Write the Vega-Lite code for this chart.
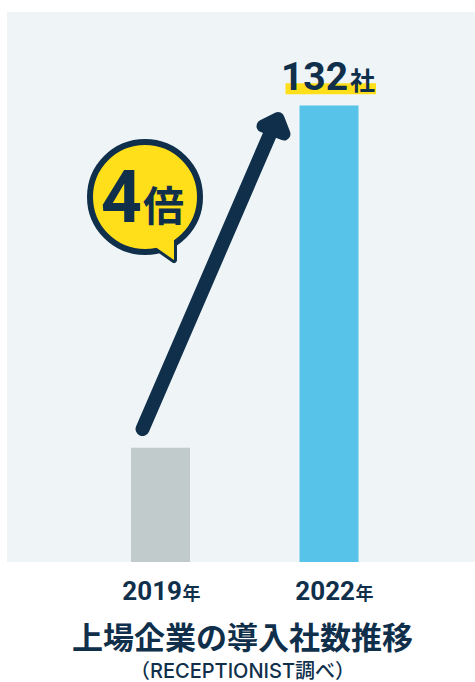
{
  "$schema": "https://vega.github.io/schema/vega-lite/v6.json",
  "width": 468,
  "height": 550,
  "autosize": {"type": "none"},
  "padding": {"left": 7, "top": 12, "right": 0, "bottom": 120},
  "background": "#ffffff",
  "view": {"fill": "#EFF4F7", "stroke": null},
  "config": {"axis": {"disable": true}},
  "datasets": {
    "companies": [
      {"x": 2019, "y": 33, "label": "2019"},
      {"x": 2022, "y": 132, "label": "2022"}
    ],
    "yearLabels": [
      {"x": 2019, "y": -11.1, "label": "2019"},
      {"x": 2022.08, "y": -11.1, "label": "2022"}
    ],
    "highlight": [{"x": 2021.225, "x2": 2022.837, "y": 138.41, "y2": 135.23}],
    "arrowShaft": [
      {"x": 2018.68, "y": 38.46, "step": 0},
      {"x": 2021.02, "y": 126.35, "step": 1}
    ],
    "arrowHead": [
      {"x": 2021.092, "y": 128.24, "step": 0},
      {"x": 2020.825, "y": 126.07, "step": 1},
      {"x": 2021.199, "y": 123.75, "step": 2}
    ],
    "bubble": [{"x": 2018.724, "y": 105.54}],
    "bubbleTail": [
      {"x": 2018.884, "y": 91.37, "step": 0},
      {"x": 2019.24, "y": 87.32, "step": 1},
      {"x": 2019.24, "y": 93.1, "step": 2}
    ],
    "multipleNumber": [{"x": 2018.671, "y": 98.45, "label": "4"}],
    "multipleUnit": [{"x": 2018.689, "y": 98.6, "label": "倍"}],
    "heading": [{"x": 2020.46, "y": -25.3, "label": "上場企業の導入社数推移"}],
    "source": [{"x": 2020.46, "y": -33.5, "label": "（RECEPTIONIST調べ）"}]
  },
  "encoding": {
    "x": {"field": "x", "type": "quantitative", "scale": {"domain": [2016.267, 2024.599], "nice": false, "zero": false, "padding": 0}},
    "y": {"field": "y", "type": "quantitative", "scale": {"domain": [0, 159.03], "nice": false, "zero": false}}
  },
  "layer": [
    {
      "data": {"name": "companies"},
      "mark": {"type": "bar", "size": 59},
      "encoding": {
        "color": {"field": "label", "type": "nominal", "legend": null, "scale": {"domain": ["2019", "2022"], "range": ["#C1CBCC", "#58C3E9"]}}
      }
    },
    {
      "data": {"name": "highlight"},
      "mark": {"type": "rect", "fill": "#FFDE1A"},
      "encoding": {"x2": {"field": "x2"}, "y2": {"field": "y2"}}
    },
    {
      "data": {"name": "companies"},
      "transform": [{"filter": "datum.y > 100"}],
      "mark": {"type": "text", "font": "Roboto", "fontWeight": 700, "fontSize": 39, "align": "right", "baseline": "alphabetic", "fill": "#0F2F4B", "dx": 19, "dy": -15},
      "encoding": {"text": {"field": "y", "type": "quantitative"}}
    },
    {
      "data": {"name": "companies"},
      "transform": [{"filter": "datum.y > 100"}],
      "mark": {"type": "text", "text": "社", "font": "Noto Sans CJK JP", "fontWeight": 700, "fontSize": 25, "align": "left", "baseline": "alphabetic", "fill": "#0F2F4B", "dx": 21, "dy": -15.5}
    },
    {
      "data": {"name": "yearLabels"},
      "mark": {"type": "text", "font": "Roboto", "fontWeight": 700, "fontSize": 26, "align": "right", "baseline": "alphabetic", "fill": "#0F2F4B", "dx": 21.5},
      "encoding": {"text": {"field": "label", "type": "nominal"}}
    },
    {
      "data": {"name": "yearLabels"},
      "mark": {"type": "text", "text": "年", "font": "Noto Sans CJK JP", "fontWeight": 700, "fontSize": 18, "align": "left", "baseline": "alphabetic", "fill": "#0F2F4B", "dx": 22}
    },
    {
      "data": {"name": "arrowShaft"},
      "mark": {"type": "line", "stroke": "#0F2F4B", "strokeWidth": 14, "strokeCap": "round"},
      "encoding": {"order": {"field": "step", "type": "ordinal"}}
    },
    {
      "data": {"name": "arrowHead"},
      "mark": {"type": "line", "interpolate": "linear-closed", "fill": "#0F2F4B", "stroke": "#0F2F4B", "strokeWidth": 13, "strokeJoin": "round"},
      "encoding": {"order": {"field": "step", "type": "ordinal"}}
    },
    {
      "data": {"name": "bubbleTail"},
      "mark": {"type": "line", "interpolate": "linear-closed", "fill": "#FFDE1A", "stroke": "#0F2F4B", "strokeWidth": 6, "strokeJoin": "round"},
      "encoding": {"order": {"field": "step", "type": "ordinal"}}
    },
    {
      "data": {"name": "bubble"},
      "mark": {"type": "point", "shape": "circle", "filled": true, "size": 12100, "fill": "#FFDE1A", "stroke": "#0F2F4B", "strokeWidth": 6, "opacity": 1}
    },
    {
      "data": {"name": "bubbleTail"},
      "mark": {"type": "line", "interpolate": "linear-closed", "fill": "#FFDE1A", "stroke": null, "strokeWidth": 0},
      "encoding": {"order": {"field": "step", "type": "ordinal"}}
    },
    {
      "data": {"name": "multipleNumber"},
      "mark": {"type": "text", "font": "Roboto", "fontWeight": 700, "fontSize": 72, "align": "right", "baseline": "alphabetic", "fill": "#0F2F4B"},
      "encoding": {"text": {"field": "label", "type": "nominal"}}
    },
    {
      "data": {"name": "multipleUnit"},
      "mark": {"type": "text", "font": "Noto Sans CJK JP", "fontWeight": 700, "fontSize": 41, "align": "left", "baseline": "alphabetic", "fill": "#0F2F4B"},
      "encoding": {"text": {"field": "label", "type": "nominal"}}
    },
    {
      "data": {"name": "heading"},
      "mark": {"type": "text", "font": "Noto Sans CJK JP", "fontWeight": 700, "fontSize": 31, "align": "center", "baseline": "alphabetic", "fill": "#0F2F4B"},
      "encoding": {"text": {"field": "label", "type": "nominal"}}
    },
    {
      "data": {"name": "source"},
      "mark": {"type": "text", "font": "Inter, Noto Sans CJK JP", "fontWeight": 500, "fontSize": 20, "align": "center", "baseline": "alphabetic", "fill": "#0F2F4B"},
      "encoding": {"text": {"field": "label", "type": "nominal"}}
    }
  ]
}
